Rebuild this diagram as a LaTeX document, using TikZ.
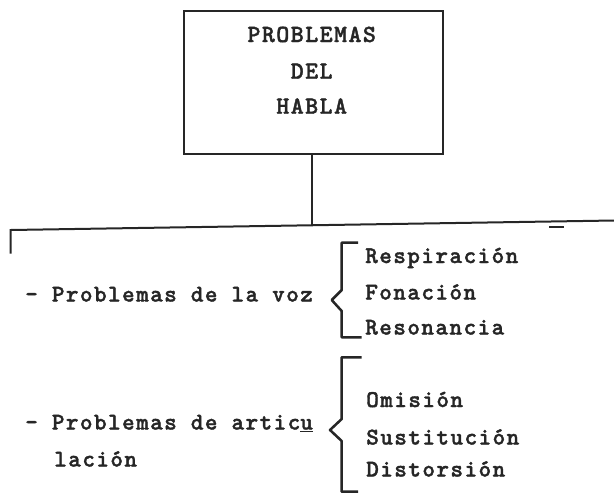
\documentclass[tikz,border=0pt]{standalone}
\usepackage{fontspec}
\newfontfamily\typew[LetterSpace=6, FakeBold=1.5]{Latin Modern Mono Light}
\definecolor{ink}{HTML}{262626}
\tikzset{
  lbl/.style={font=\typew\fontsize{18pt}{20pt}\selectfont\bfseries, text=ink, inner sep=0pt, anchor=base west},
  ttl/.style={font=\typew\fontsize{18.5pt}{20pt}\selectfont\bfseries, text=ink, inner sep=0pt, anchor=base},
  ln/.style={draw=ink, line width=1.5pt},
  brc/.style={draw=ink, line width=1.9pt, line join=round},
}
\begin{document}
\begin{tikzpicture}[x=0.75pt, y=-0.75pt]
\useasboundingbox (0,0) rectangle (614,494);
% root box
\node[ln, minimum width=259*0.75pt, minimum height=143*0.75pt, inner sep=0pt] (root) at (313.5,82.5) {};
\node[ttl] (t1) at (311.7,42) {PROBLEMAS};
\node[ttl] (t2) at (311.7,78.7) {DEL};
\node[ttl] (t3) at (311.7,113.7) {HABLA};
% tree lines
\coordinate (hl) at (10.7,230);
\coordinate (hr) at (614,220.5);
\coordinate (hj) at (311.7,225.3);
\coordinate (tk) at (10.7,253.5);
\coordinate (d1) at (549,226.7);
\coordinate (d2) at (564,226.7);
\draw[ln] (root.south -| hj) -- (hj);
\draw[ln] (tk) -- (hl) -- (hr);
\draw[ln] (d1) -- (d2);
% first group
\node[lbl] (voz) at (25,301.5) {- Problemas de la voz};
\draw[brc] (358,242.7) -- (341.7,242.7) -- (341.7,290) -- (331.7,300) -- (341.7,311) -- (341.7,337.3) -- (361.7,337.3);
\node[lbl] (r1) at (365,263) {Respiración};
\node[lbl] (r2) at (365,299.5) {Fonación};
\node[lbl] (r3) at (365,334.5) {Resonancia};
% second group
\node[lbl] (art) at (25,429.5) {- Problemas de artic\underline{u}};
\node[lbl] (art2) at (54,466.5) {lación};
\draw[brc] (361.7,357.3) -- (341.7,357.3) -- (341.7,419) -- (330,430) -- (341.7,441) -- (341.7,491.7) -- (358,491.7);
\node[lbl] (s1) at (366,407) {Omisión};
\node[lbl] (s2) at (366,444.5) {Sustitución};
\node[lbl] (s3) at (366,476.5) {Distorsión};
\end{tikzpicture}
\end{document}
